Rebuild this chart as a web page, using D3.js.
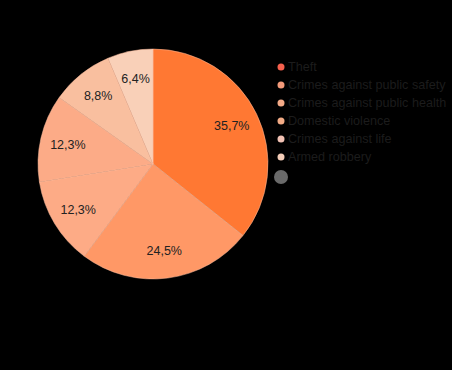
<!DOCTYPE html>
<meta charset="utf-8">
<style>
  body { margin: 0; background: #000; }
  text { font-family: "Liberation Sans", Arial, sans-serif; }
</style>
<body>
<script src="https://d3js.org/d3.v7.min.js"></script>
<script>
  var categories = ["Theft", "Crimes against public safety", "Crimes against public health",
    "Domestic violence", "Crimes against life", "Armed robbery"];
  var values = [35.7, 24.5, 12.3, 12.3, 8.8, 6.4];
  var labels = ["35,7%", "24,5%", "12,3%", "12,3%", "8,8%", "6,4%"];
  var sliceColors = ["#ff7833", "#ff9866", "#fdab86", "#fcab87", "#f9bf9f", "#f9d0b8"];
  var dotColors = ["#f5604d", "#f39a7a", "#f3aa87", "#f2ab86", "#f2c2b4", "#f4cdb8"];

  var width = 452, height = 370;
  var cx = 153, cy = 164, radius = 115;

  var svg = d3.select("body").append("svg")
    .attr("width", width)
    .attr("height", height);

  var pie = d3.pie().sort(null).value(function (d) { return d; });
  var arc = d3.arc().innerRadius(0).outerRadius(radius);
  var labelArc = d3.arc().innerRadius(radius * 0.76).outerRadius(radius * 0.76);

  var g = svg.append("g")
    .attr("transform", "translate(" + cx + "," + cy + ")");

  var slices = g.selectAll(".slice")
    .data(pie(values))
    .enter()
    .append("g")
    .attr("class", "slice");

  slices.append("path")
    .attr("d", arc)
    .style("fill", function (d, i) { return sliceColors[i]; })
    .style("stroke", "#fbbb9c")
    .style("stroke-width", 0.5);

  slices.append("text")
    .attr("transform", function (d) { return "translate(" + labelArc.centroid(d) + ")"; })
    .attr("text-anchor", "middle")
    .attr("dy", "0.35em")
    .style("font-size", "12.5px")
    .style("fill", "#222")
    .text(function (d, i) { return labels[i]; });

  // legend
  var legend = svg.append("g")
    .attr("transform", "translate(281,67)");

  var items = legend.selectAll(".item")
    .data(categories)
    .enter()
    .append("g")
    .attr("class", "item")
    .attr("transform", function (d, i) { return "translate(0," + i * 18 + ")"; });

  items.append("circle")
    .attr("r", 3.5)
    .style("fill", function (d, i) { return dotColors[i]; });

  items.append("text")
    .attr("x", 7)
    .attr("dy", "0.35em")
    .style("font-size", "12.6px")
    .style("fill", "#1c1c1c")
    .text(function (d) { return d; });

  legend.append("circle")
    .attr("cy", 110)
    .attr("r", 7)
    .style("fill", "#6a6a6a");
</script>
</body>
